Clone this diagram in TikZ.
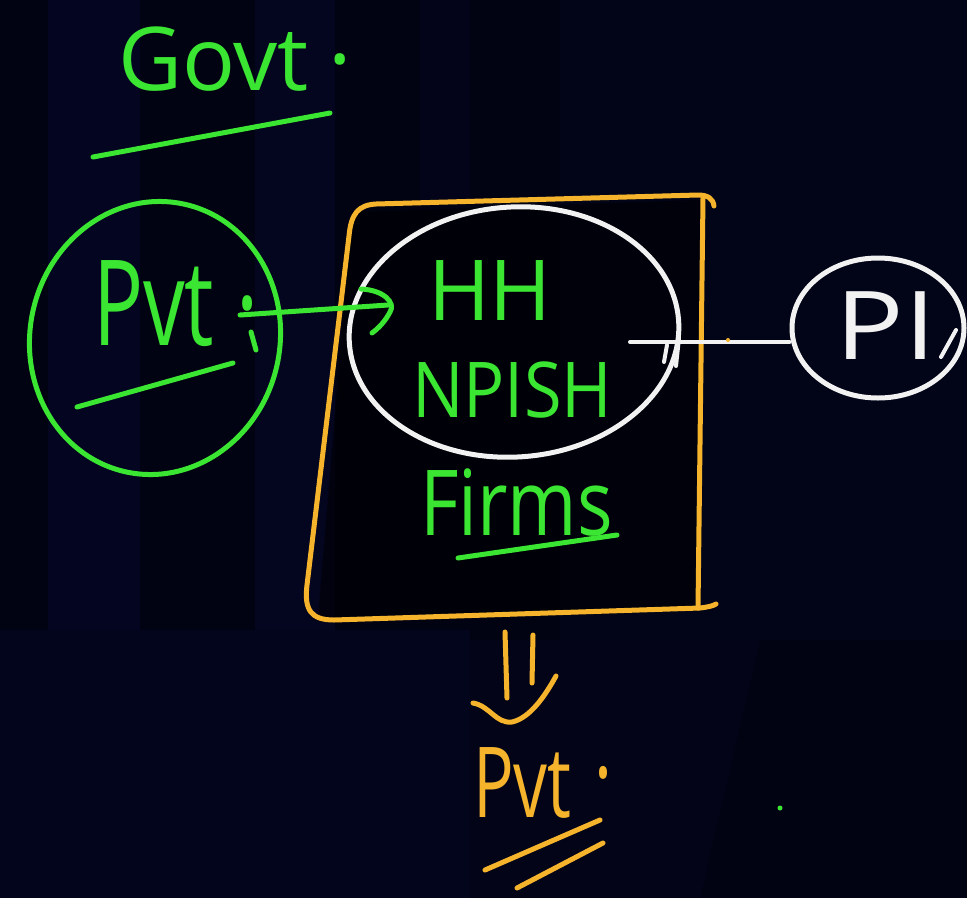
\documentclass[tikz,border=0pt]{standalone}
\usepackage{fontspec}
\newfontfamily\hand{Open Sans}
\usetikzlibrary{arrows.meta,shapes.geometric}
\definecolor{bgdark}{HTML}{020312}
\definecolor{bgnavy}{HTML}{0B0E44}
\definecolor{chalkgreen}{HTML}{3AE632}
\definecolor{chalkorange}{HTML}{F6B42C}
\definecolor{chalkwhite}{HTML}{F2F2F2}
\begin{document}
\begin{tikzpicture}[x=1pt,y=-1pt, line cap=round, line join=round,
  pen/.style={line width=5pt},
  thinpen/.style={line width=4pt},
  lbl/.style={inner sep=0pt, outer sep=0pt, anchor=base west},
  ring/.style={ellipse, pen, inner sep=0pt},
]
\useasboundingbox (0,0) rectangle (967,898);
% dark board with faint navy bands
\fill[bgdark] (0,0) rectangle (967,898);
\fill[bgnavy, opacity=0.30] (48,0) rectangle (140,630);
\fill[bgnavy, opacity=0.25] (255,0) rectangle (335,630);
\fill[bgnavy, opacity=0.15] (420,0) rectangle (470,200);
\fill[bgnavy, opacity=0.22] (0,630) rectangle (470,898);
\fill[bgnavy, opacity=0.12] (470,640) -- (760,640) -- (700,898) -- (470,898) -- cycle;
\fill[bgnavy, opacity=0.10] (560,0) rectangle (967,640);
\fill[black, opacity=0.5] (352,212) -- (700,200) -- (698,606) -- (318,618) -- cycle;

% heading
\node[lbl, text=chalkgreen, font=\hand\fontsize{88}{88}\selectfont] (govt) at (118,90) {Govt\hspace{20pt}·};
\draw[chalkgreen, pen] (93,157) -- (330,113);

% private sector ring
\node[ring, draw=chalkgreen, minimum width=250pt, minimum height=274pt, rotate=-12] (pvtring) at (155,338) {};
\node[lbl, text=chalkgreen, font=\hand\fontsize{119}{119}\selectfont, xscale=0.7] (pvt) at (93,345) {Pvt\hspace{32pt}·};
\draw[chalkgreen, pen] (77,407) -- (233,363);
\draw[chalkgreen, pen] (251,332) -- (256,350);

% sector box
\draw[chalkorange, pen] (714,206) .. controls (713,198) and (707,195) .. (698,195)
  -- (376,204) .. controls (358,205) and (351,214) .. (349,236)
  -- (307,585) .. controls (304,610) and (311,620) .. (334,620)
  -- (700,608) .. controls (708,607) and (713,606) .. (716,604);
\draw[chalkorange, pen] (703,198) -- (698,608);

% households and NPISH ring
\node[ring, draw=chalkwhite, minimum width=330pt, minimum height=250pt, rotate=4] (hhring) at (514,332) {};
\node[lbl, text=chalkgreen, font=\hand\fontsize{84}{84}\selectfont] (hh) at (428,320) {HH};
\node[lbl, text=chalkgreen, font=\hand\fontsize{77}{77}\selectfont, xscale=0.89] (npish) at (412,417) {NPISH};
\node[lbl, text=chalkgreen, font=\hand\fontsize{91}{91}\selectfont, xscale=0.82] (firms) at (420,535) {Firms};
\draw[chalkgreen, pen] (458,558) -- (617,535);

% arrow from the private ring into the box
\coordinate (pvtout) at (240,315);
\coordinate (hhin) at (388,305);
\draw[chalkgreen, pen] (pvtout) -- (hhin);
\draw[chalkgreen, pen] (361,289) .. controls (384,290) and (396,303) .. (390,312)
  .. controls (386,320) and (379,328) .. (372,333);

% link to PI
\node[ring, draw=chalkwhite, minimum width=172pt, minimum height=140pt] (piring) at (878,328) {};
\node[text=chalkwhite, font=\hand\fontsize{95}{95}\selectfont, inner sep=0pt, xscale=1.2] (pi) at (886,326) {PI};
\draw[chalkwhite, thinpen] (956,330) -- (941,357);
\coordinate (hhout) at (630,342);
\draw[chalkwhite, thinpen] (hhout) -- (hhout -| piring.west);
\draw[chalkwhite, thinpen] (667,345) -- (664,362);
\draw[chalkwhite, thinpen] (679,338) -- (676,366);
\fill[chalkorange] (728,340) circle (2pt);

% result: private sector
\node[lbl, text=chalkorange, font=\hand\fontsize{98}{98}\selectfont, xscale=0.69] (pvtres) at (473,817) {Pvt\hspace{34pt}\raisebox{10pt}{·}};
\coordinate (boxbot) at (505,632);
\draw[chalkorange, pen] (boxbot) -- (507,698);
\draw[chalkorange, pen] (533,635) -- (532,683);
\draw[chalkorange, pen] (473,703) .. controls (490,706) and (496,724) .. (512,722)
  .. controls (530,718) and (545,696) .. (556,676);
\draw[chalkorange, pen] (485,870) -- (600,820);
\draw[chalkorange, pen] (517,888) -- (603,843);
\fill[chalkgreen] (780,808) circle (2.5pt);
\end{tikzpicture}
\end{document}
